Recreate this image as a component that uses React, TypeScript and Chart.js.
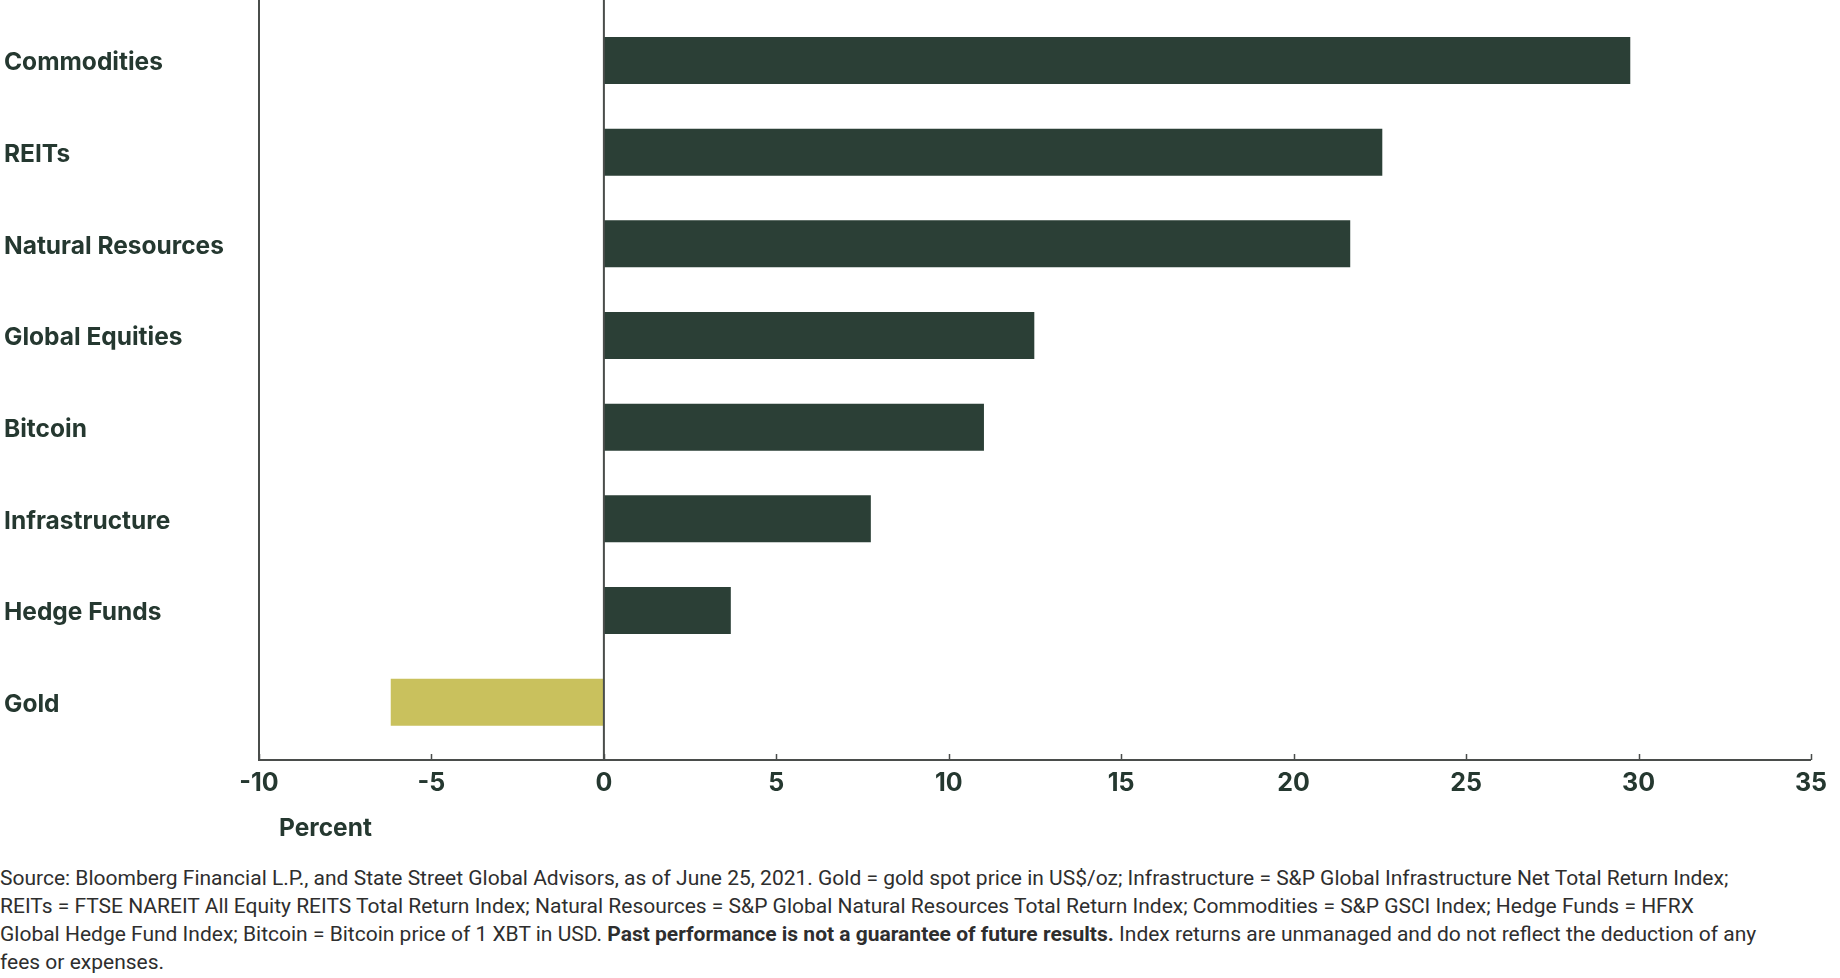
import React, { useEffect, useRef } from "react";
import { Chart, registerables } from "chart.js";

Chart.register(...registerables);

const categories = [
  "Commodities",
  "REITs",
  "Natural Resources",
  "Global Equities",
  "Bitcoin",
  "Infrastructure",
  "Hedge Funds",
  "Gold",
];
const returnsPct = [29.76, 22.57, 21.64, 12.48, 11.02, 7.74, 3.68, -6.18];
const xTickValues = [-10, -5, 0, 5, 10, 15, 20, 25, 30, 35];
const axisTitle = "Percent";

const DARK = "#2b3f36";
const GOLD = "#c9c15d";
const TEXT = "#253830";
const AXIS = "#4a4d4b";
const BOLD_FONT = "Inter, Roboto, sans-serif";
const FOOT_FONT = "Roboto, 'Noto Sans', sans-serif";

const axisPlugin = {
  id: "customAxes",
  afterDraw(chart: any) {
    const { ctx, chartArea, scales } = chart;
    const x = scales.x;
    const baseY = chartArea.bottom + 12;
    const zeroX = x.getPixelForValue(0);
    ctx.save();
    ctx.strokeStyle = AXIS;
    ctx.lineWidth = 2;
    ctx.beginPath();
    ctx.moveTo(chartArea.left, 0);
    ctx.lineTo(chartArea.left, baseY);
    ctx.lineTo(chartArea.right, baseY);
    ctx.moveTo(zeroX, 0);
    ctx.lineTo(zeroX, baseY);
    ctx.stroke();
    ctx.lineWidth = 1.5;
    ctx.beginPath();
    xTickValues.forEach((v) => {
      const px = Math.round(x.getPixelForValue(v)) + 0.5;
      ctx.moveTo(px, baseY);
      ctx.lineTo(px, baseY - 6);
    });
    ctx.stroke();
    ctx.fillStyle = TEXT;
    ctx.font = `700 24.5px ${BOLD_FONT}`;
    ctx.textAlign = "left";
    ctx.textBaseline = "middle";
    ctx.fillText(axisTitle, chartArea.left + 20, baseY + 69);
    ctx.restore();
  },
};

export default function App() {
  const ref = useRef<HTMLCanvasElement | null>(null);

  useEffect(() => {
    document.body.style.margin = "0";
    document.body.style.background = "#ffffff";
    const chart = new Chart(ref.current as HTMLCanvasElement, {
      type: "bar",
      data: {
        labels: categories,
        datasets: [
          {
            data: returnsPct,
            backgroundColor: returnsPct.map((v) => (v < 0 ? GOLD : DARK)),
            borderWidth: 0,
            barPercentage: 0.513,
            categoryPercentage: 1,
          },
        ],
      },
      options: {
        indexAxis: "y",
        animation: false,
        responsive: true,
        maintainAspectRatio: false,
        layout: { padding: { top: 14, left: 4, right: 29, bottom: 22 } },
        plugins: {
          legend: { display: false },
          tooltip: { enabled: false },
        },
        scales: {
          y: {
            type: "category",
            grid: { display: false, drawTicks: false },
            border: { display: false },
            afterFit(scale: any) {
              scale.width = 255;
            },
            ticks: {
              crossAlign: "far",
              color: TEXT,
              font: { family: BOLD_FONT, size: 24.5, weight: "bold" },
              padding: 0,
              labelOffset: 2.5,
            },
          },
          x: {
            type: "linear",
            min: -10,
            max: 35,
            grid: { display: false, drawTicks: false },
            border: { display: false },
            afterBuildTicks(scale: any) {
              scale.ticks = xTickValues.map((v) => ({ value: v }));
            },
            afterFit(scale: any) {
              scale.paddingLeft = 0;
              scale.paddingRight = 0;
            },
            ticks: {
              color: TEXT,
              padding: 20,
              font: { family: BOLD_FONT, size: 25, weight: "bold" },
              maxRotation: 0,
              autoSkip: false,
            },
          },
        },
      },
      plugins: [axisPlugin],
    });
    return () => chart.destroy();
  }, []);

  const footStyle: React.CSSProperties = {
    position: "absolute",
    left: 0,
    top: 864,
    fontFamily: FOOT_FONT,
    fontSize: 21,
    lineHeight: "28px",
    color: "#2e2e2e",
    whiteSpace: "nowrap",
  };

  return (
    <div style={{ position: "relative", width: 1840, height: 978, background: "#fff" }}>
      <div style={{ position: "absolute", left: 0, top: 0, width: 1840, height: 840 }}>
        <canvas ref={ref} />
      </div>
      <div style={footStyle}>
        Source: Bloomberg Financial L.P., and State Street Global Advisors, as of June 25, 2021. Gold = gold spot price in US$/oz; Infrastructure = S&amp;P Global Infrastructure Net Total Return Index;
        <br />
        REITs = FTSE NAREIT All Equity REITS Total Return Index; Natural Resources = S&amp;P Global Natural Resources Total Return Index; Commodities = S&amp;P GSCI Index; Hedge Funds = HFRX
        <br />
        Global Hedge Fund Index; Bitcoin = Bitcoin price of 1 XBT in USD. <b>Past performance is not a guarantee of future results.</b> Index returns are unmanaged and do not reflect the deduction of any
        <br />
        fees or expenses.
      </div>
    </div>
  );
}
